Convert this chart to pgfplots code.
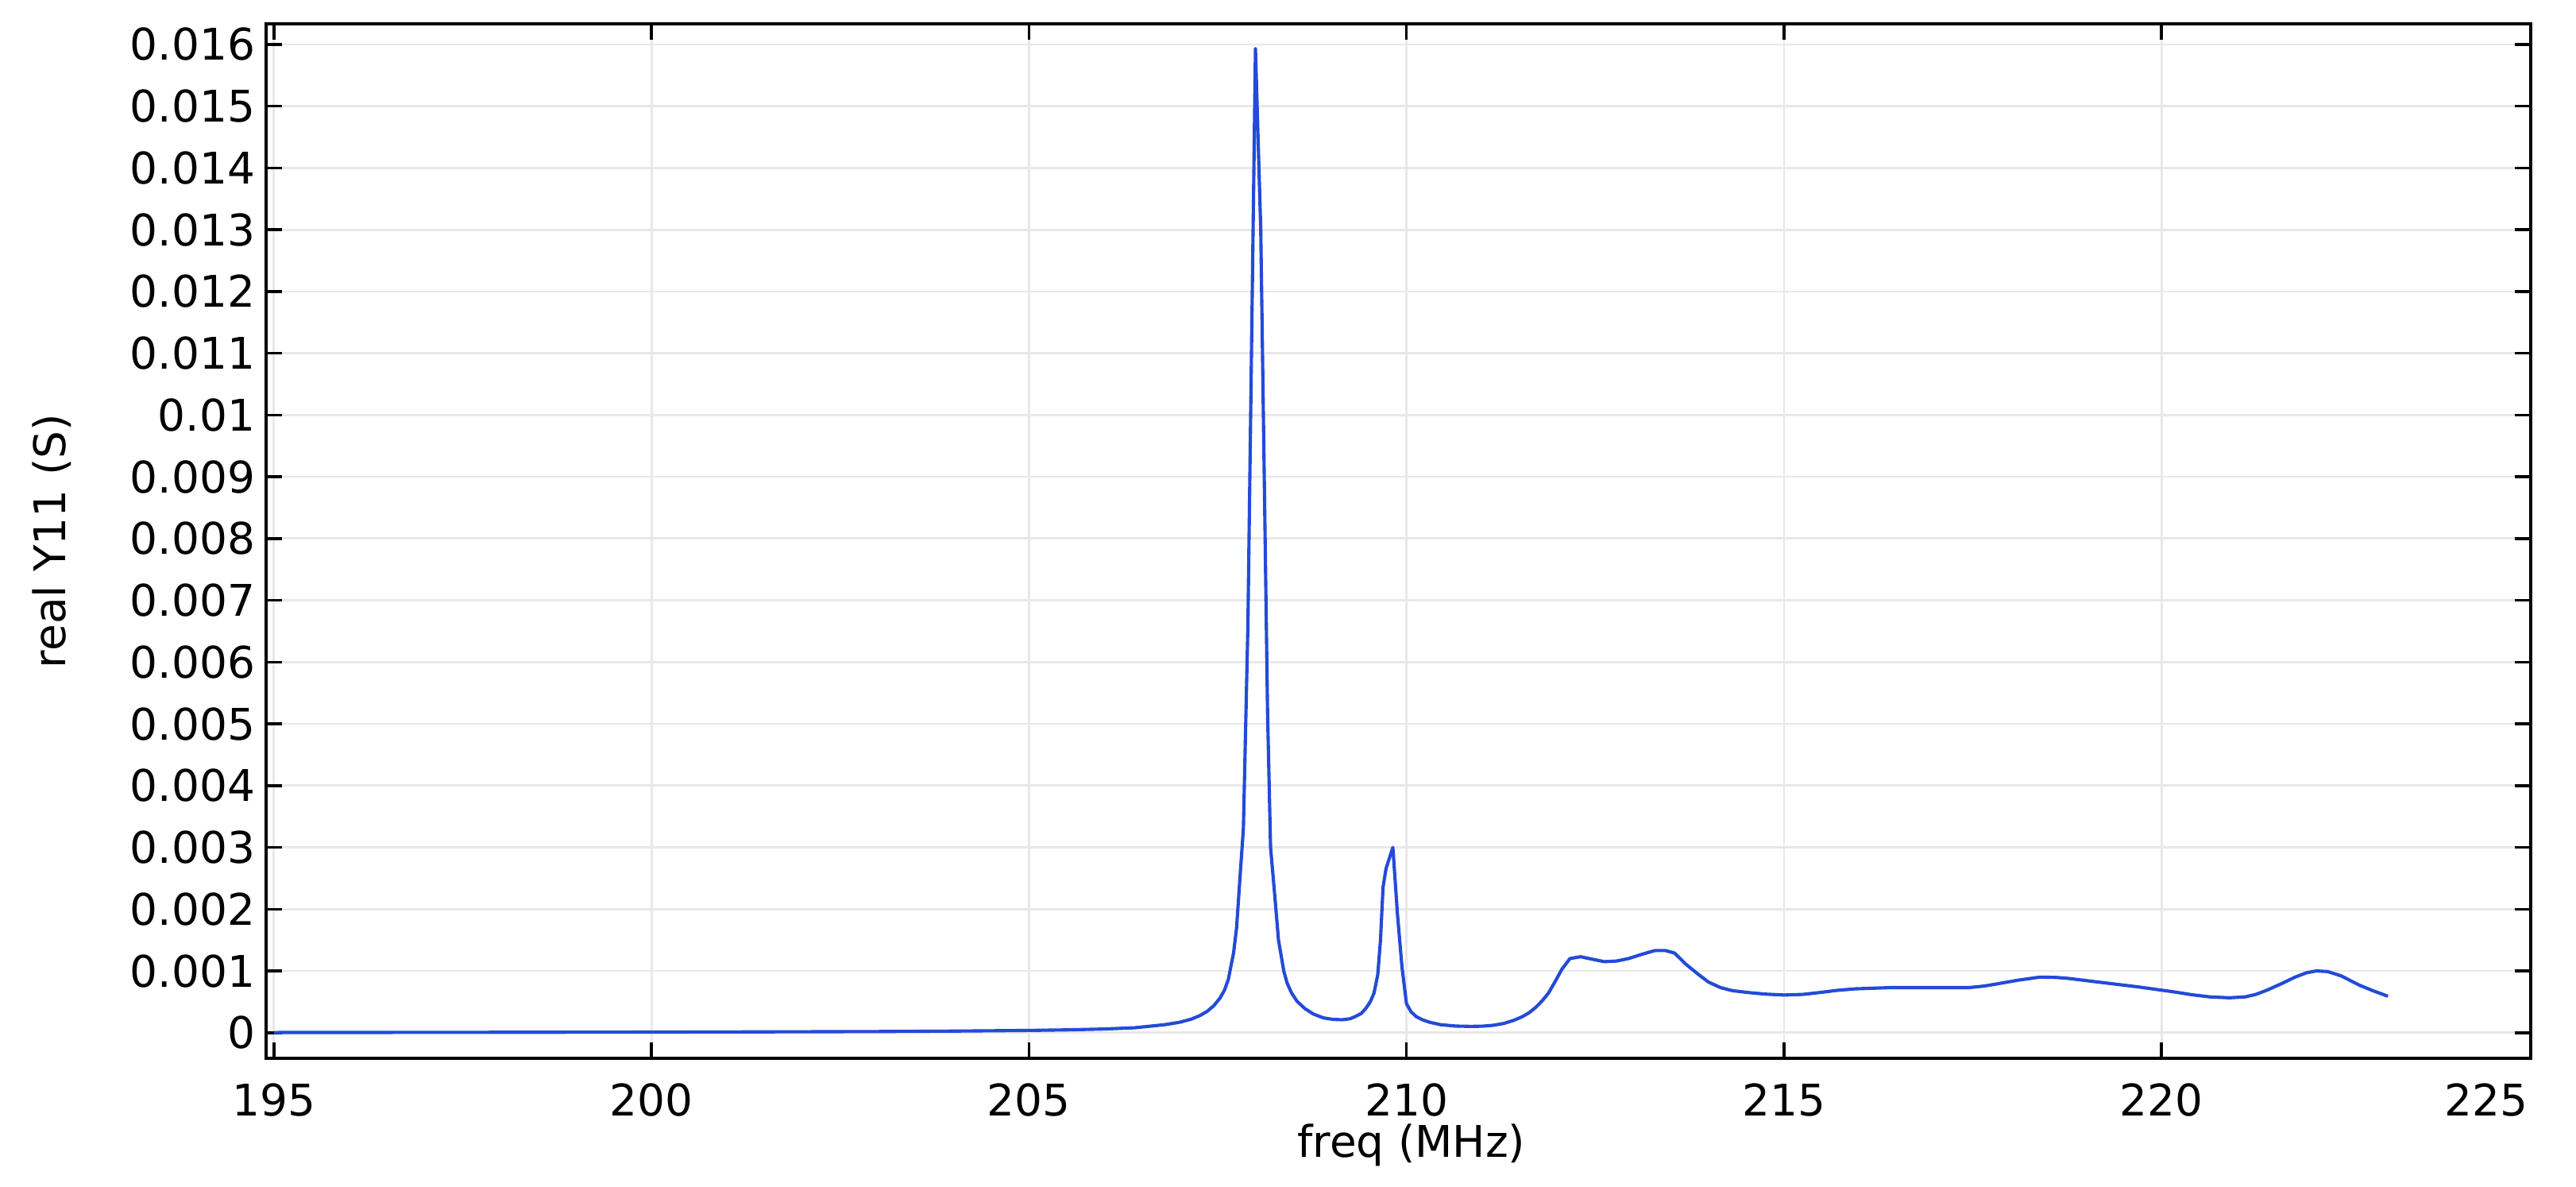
\documentclass[border=0pt]{standalone}
\usepackage{pgfplots}
\pgfplotsset{compat=1.18}
\usepackage{fontspec}
\setmainfont{DejaVu Sans}
\definecolor{curve}{RGB}{35,75,215}
\definecolor{gridc}{RGB}{232,232,232}
\begin{document}
\fontsize{10pt}{12pt}\selectfont
\begin{tikzpicture}
\begin{axis}[
  name=ax,
  scale only axis,
  width=519.3pt, height=237.2pt,
  xmin=194.895, xmax=224.89,
  ymin=-0.000417, ymax=0.016334,
  xtick={195,200,205,210,215,220},
  ytick={0,0.001,0.002,0.003,0.004,0.005,0.006,0.007,0.008,0.009,0.01,0.011,0.012,0.013,0.014,0.015,0.016},
  scaled y ticks=false,
  scaled x ticks=false,
  yticklabel style={/pgf/number format/fixed,/pgf/number format/precision=3,xshift=1pt},
  xticklabel style={yshift=-2.3pt},
  /pgf/number format/assume math mode=true,
  tick align=inside,
  xtick pos=both, ytick pos=both,
  major tick length=3.6pt,
  every tick/.style={black,line width=0.65pt},
  axis line style={line width=0.75pt},
  grid=major,
  major grid style={gridc,line width=0.5pt},
  xlabel={freq (MHz)},
  ylabel={real Y11 (S)},
  xlabel style={at={(axis description cs:0.5,0)},anchor=north,inner sep=0pt,yshift=-14.75pt,xshift=3pt},
  ylabel style={at={(axis description cs:-0.0947,0.5)},anchor=center,inner sep=0pt},
]
\addplot[curve,line width=0.75pt,line join=round] coordinates {
(195.0,0.000003) (197.0,0.000005) (199.0,0.000008) (201.0,0.000012)
(203.0,0.000019) (204.0,0.000026) (205.0,0.000037) (205.5,0.000046)
(206.0,0.000060) (206.4,0.000080) (206.8,0.000130) (207.0,0.000170)
(207.15,0.000220) (207.26,0.000275) (207.36,0.000345) (207.45,0.000440)
(207.53,0.000560) (207.59,0.000690) (207.64,0.000860)
(207.71,0.001290) (207.75,0.001700) (207.80,0.002600) (207.84,0.003300)
(207.90,0.006600) (208.00,0.015930) (208.07,0.013000) (208.12,0.008700)
(208.16,0.005200) (208.20,0.003000) (208.25,0.002300) (208.305,0.001500)
(208.375,0.001000) (208.42,0.000800) (208.48,0.000640) (208.55,0.000510)
(208.655,0.000390) (208.77,0.000300) (208.90,0.000240) (209.03,0.000215)
(209.15,0.000210) (209.25,0.000225) (209.32,0.000260) (209.40,0.000310)
(209.46,0.000390) (209.52,0.000500) (209.57,0.000640)
(209.62,0.000940) (209.656,0.001500) (209.69,0.002360) (209.73,0.002660)
(209.82,0.003000) (209.88,0.001930) (209.94,0.001070) (210.00,0.000470)
(210.06,0.000340) (210.13,0.000260) (210.21,0.000210) (210.305,0.000170)
(210.45,0.000130) (210.655,0.000107) (210.85,0.000102) (211.00,0.000105)
(211.15,0.000120) (211.29,0.000150) (211.42,0.000200) (211.53,0.000257)
(211.62,0.000320) (211.71,0.000407) (211.80,0.000520) (211.88,0.000640)
(211.97,0.000830) (212.06,0.001030) (212.165,0.001200) (212.305,0.001230)
(212.46,0.001190) (212.62,0.001150) (212.78,0.001160)
(212.94,0.001200) (213.12,0.001270) (213.29,0.001330) (213.43,0.001330) (213.55,0.001290)
(213.70,0.001110) (213.87,0.000940) (214.00,0.000820) (214.16,0.000730)
(214.32,0.000680) (214.53,0.000650) (214.75,0.000625) (215.00,0.000610)
(215.25,0.000620) (215.47,0.000650) (215.70,0.000685) (215.94,0.000710)
(216.41,0.000730) (216.88,0.000730)
(217.45,0.000730) (217.65,0.000755) (217.82,0.000790) (218.10,0.000850) (218.39,0.000900)
(218.60,0.000895) (218.76,0.000880)
(219.23,0.000810) (219.70,0.000740) (220.17,0.000660) (220.40,0.000615) (220.64,0.000580)
(220.90,0.000565) (221.11,0.000580) (221.25,0.000620) (221.40,0.000690) (221.60,0.000800)
(221.77,0.000900) (221.92,0.000970) (222.05,0.001000)
(222.20,0.000990) (222.38,0.000920) (222.62,0.000770) (222.80,0.000680) (223.00,0.000590)
};
\end{axis}
\node[anchor=north east,inner sep=0pt,yshift=-5.6pt,xshift=-0.4pt] at (ax.south east) {225};
\pgfresetboundingbox
\path ([shift={(-61pt,-29.33pt)}]ax.south west) rectangle ([shift={(10.4pt,5.46pt)}]ax.north east);
\end{tikzpicture}
\end{document}
